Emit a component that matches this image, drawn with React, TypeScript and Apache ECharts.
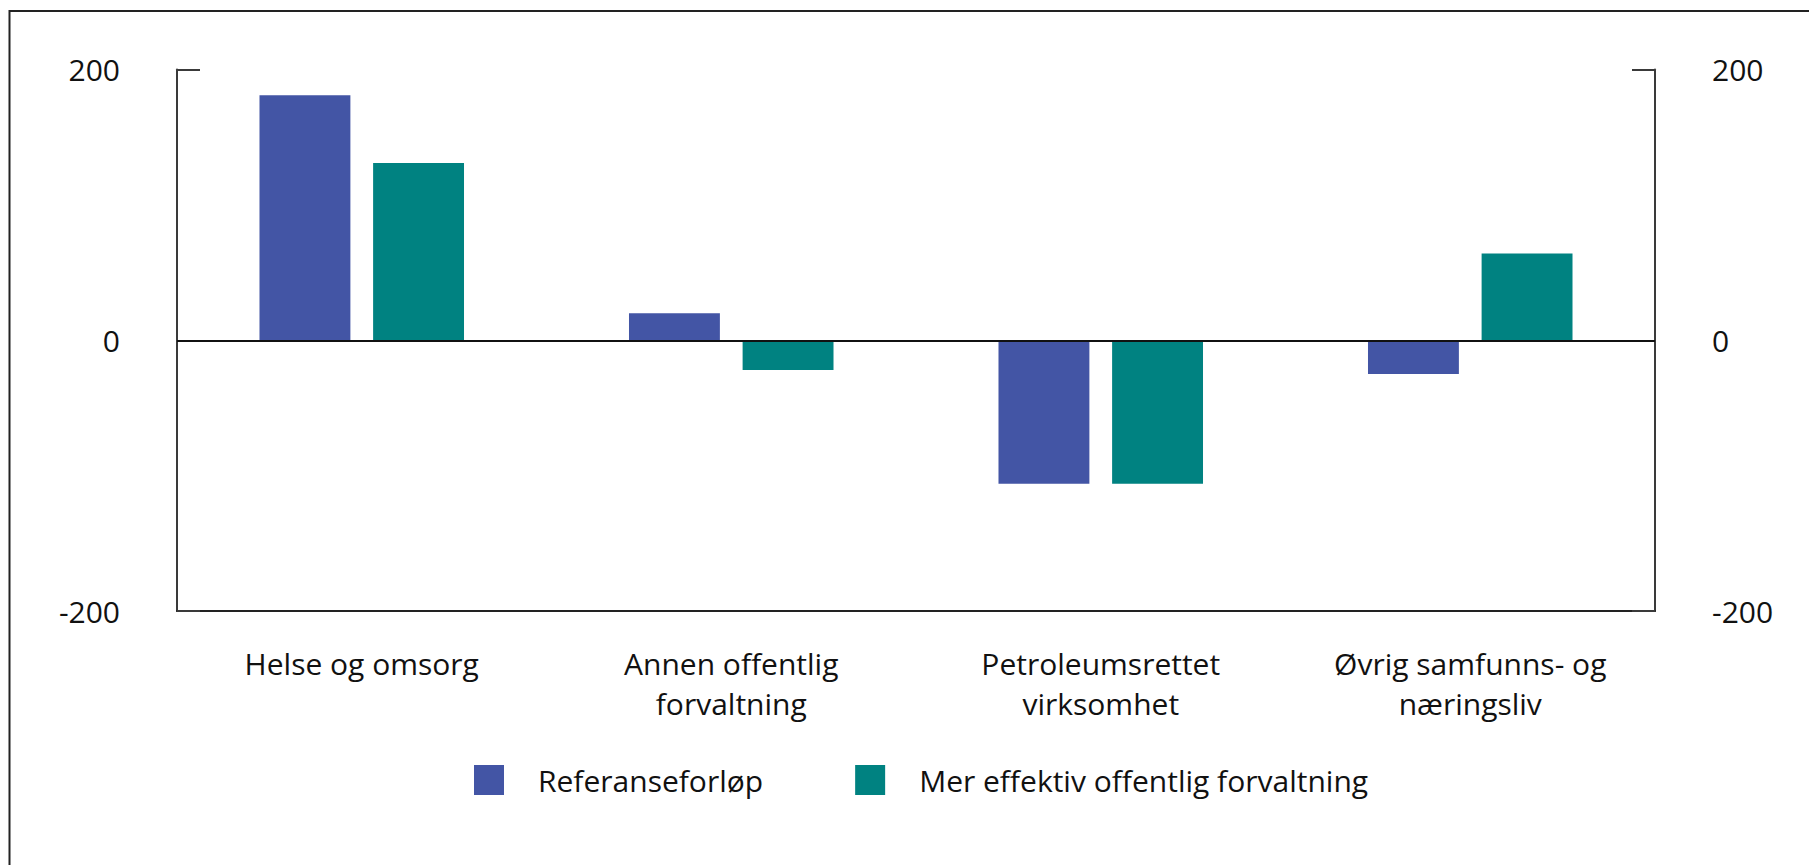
import React, { useEffect, useRef } from "react";
import * as echarts from "echarts";

const categories = [
  "Helse og omsorg",
  "Annen offentlig\nforvaltning",
  "Petroleumsrettet\nvirksomhet",
  "Øvrig samfunns- og\nnæringsliv",
];
const referanse = [181, 20, -106, -25];
const effektiv = [131, -22, -106, 64];
const seriesNames = ["Referanseforløp", "Mer effektiv offentlig forvaltning"];
const yMin = -200;
const yMax = 200;
const yInterval = 200;

const FONT = "'Open Sans', sans-serif";
const TEXT = "#111";
const FS = 30;

export default function App() {
  const ref = useRef<HTMLDivElement>(null);
  useEffect(() => {
    if (!ref.current) return;
    const chart = echarts.init(ref.current, undefined, { renderer: "svg" });
    const yAxisBase = (pos: "left" | "right") => ({
      type: "value",
      position: pos,
      min: yMin,
      max: yMax,
      interval: yInterval,
      axisLine: { show: true, lineStyle: { color: "#3a3a3a", width: 2 } },
      axisTick: { show: true, inside: true, length: 23, lineStyle: { color: "#3a3a3a", width: 2 } },
      splitLine: { show: false },
      axisLabel: {
        show: true,
        margin: 57,
        color: TEXT,
        fontFamily: FONT,
        fontSize: FS,
      },
    });
    chart.setOption({
      animation: false,
      backgroundColor: "#fff",
      graphic: [
        {
          type: "rect",
          shape: { x: 9.5, y: 11, width: 1900, height: 1000 },
          style: { fill: "none", stroke: "#222", lineWidth: 2 },
          silent: true,
        },
      ],
      grid: { left: 177, right: 154, top: 69.5, bottom: 254, containLabel: false },
      legend: {
        show: true,
        left: 474,
        top: 765,
        padding: 0,
        itemWidth: 30,
        itemHeight: 30,
        itemGap: 92,
        icon: "rect",
        textStyle: {
          color: TEXT,
          fontFamily: FONT,
          fontSize: FS,
          padding: [0, 0, 0, 29],
        },
        data: seriesNames,
      },
      xAxis: {
        type: "category",
        data: categories,
        position: "bottom",
        axisLine: { show: true, onZero: false, lineStyle: { color: "#222", width: 2 } },
        axisTick: { show: false },
        axisLabel: {
          color: TEXT,
          fontFamily: FONT,
          fontSize: FS,
          lineHeight: 40,
          margin: 32,
          interval: 0,
        },
      },
      yAxis: [yAxisBase("left"), yAxisBase("right")],
      series: [
        {
          name: seriesNames[0],
          type: "bar",
          data: referanse,
          barWidth: "24.6%",
          barGap: "25%",
          itemStyle: { color: "#4355a5" },
          markLine: {
            silent: true,
            symbol: "none",
            label: { show: false },
            lineStyle: { color: "#111", width: 2, type: "solid" },
            data: [{ yAxis: 0 }],
          },
        },
        {
          name: seriesNames[1],
          type: "bar",
          data: effektiv,
          barWidth: "24.6%",
          barGap: "25%",
          itemStyle: { color: "#008281" },
        },
      ],
    });
    return () => chart.dispose();
  }, []);
  return (
    <div
      ref={ref}
      style={{ position: "fixed", left: 0, top: 0, width: 1809, height: 865 }}
    />
  );
}
